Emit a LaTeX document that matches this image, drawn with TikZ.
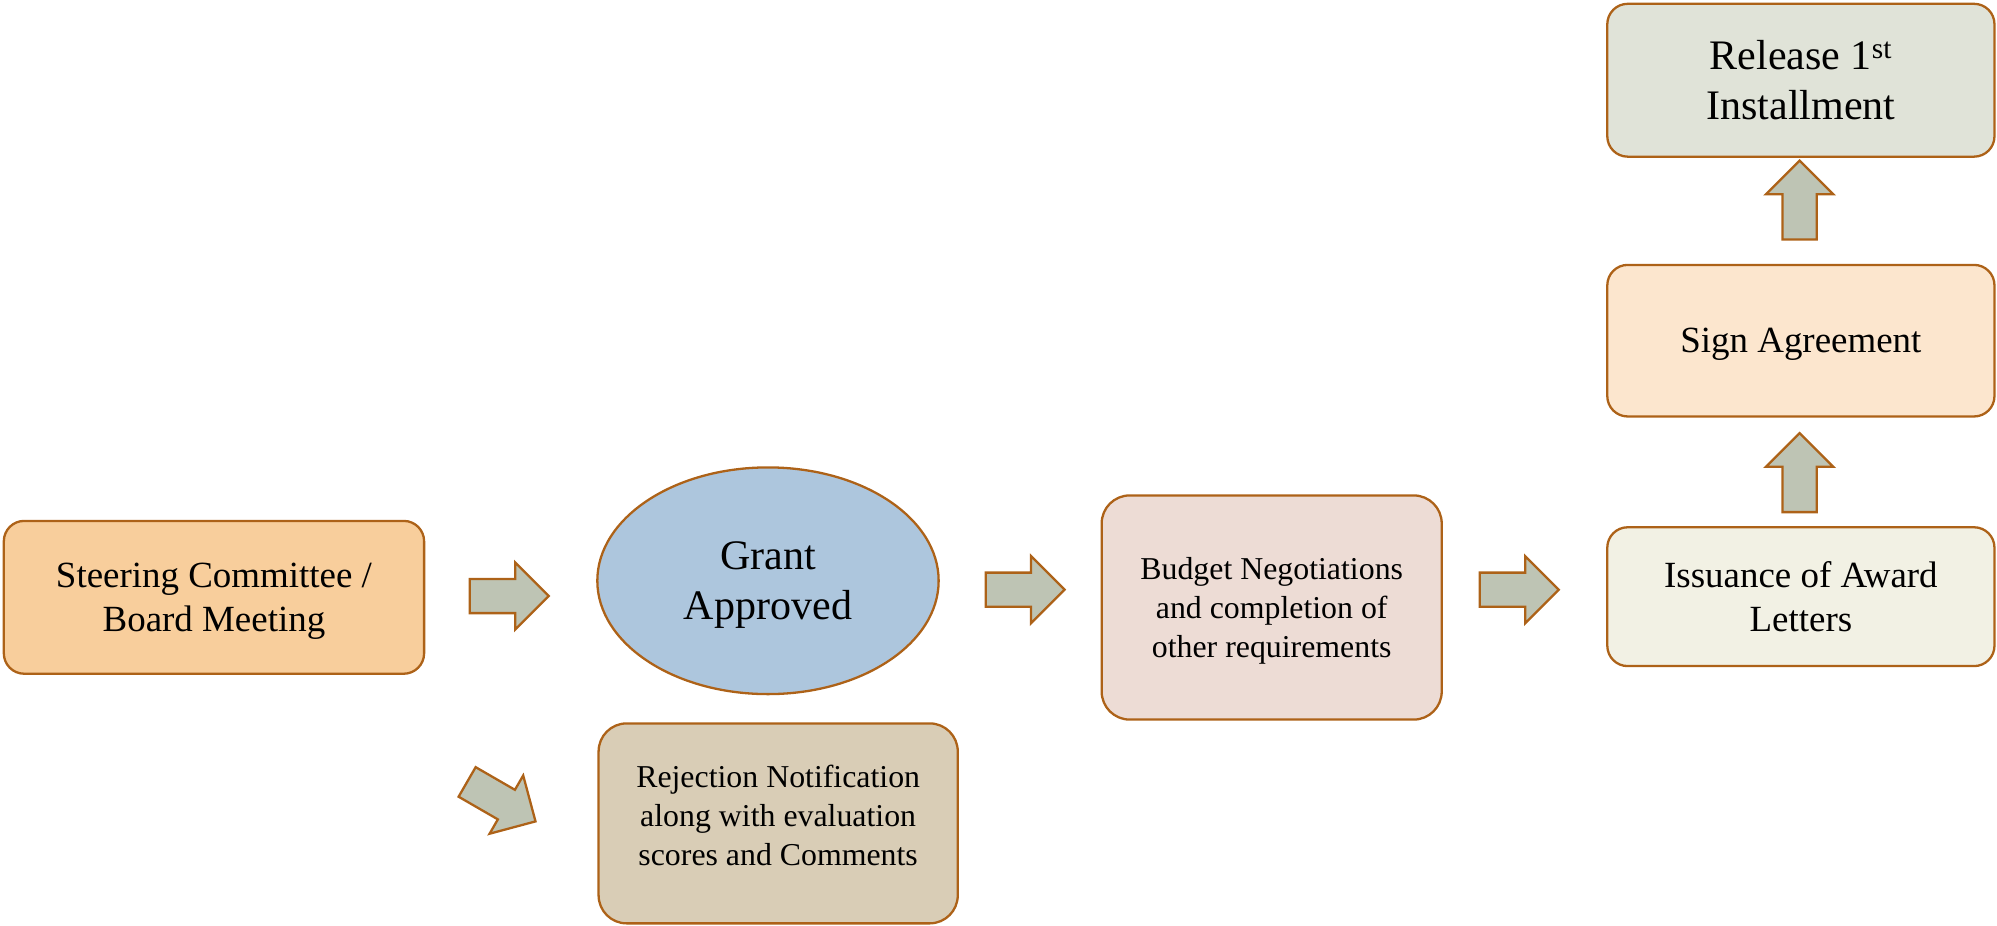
\documentclass[tikz,border=0pt]{standalone}
\usepackage{fontspec}
\setmainfont{Liberation Serif}
\usetikzlibrary{shapes.geometric,shapes.arrows}

\definecolor{edgebrown}{HTML}{AD6218}
\definecolor{arrowfill}{HTML}{BEC4B4}
\definecolor{steerfill}{HTML}{F8CE9C}
\definecolor{grantfill}{HTML}{ADC6DD}
\definecolor{budgetfill}{HTML}{EDDCD5}
\definecolor{issuefill}{HTML}{F2F1E4}
\definecolor{signfill}{HTML}{FCE6CE}
\definecolor{releasefill}{HTML}{E0E3D8}
\definecolor{rejectfill}{HTML}{D9CDB6}

\tikzset{
  stagebox/.style={draw=edgebrown, line width=1.8pt, rounded corners=16pt,
    align=center, inner sep=0pt},
  blockarrow/.style={single arrow, draw=edgebrown, fill=arrowfill,
    line width=1.8pt, minimum height=62pt, text height=12.5pt, text depth=12.5pt,
    single arrow head extend=13pt, inner sep=0pt, anchor=tail},
  bigtext/.style={font=\fontsize{33}{39}\selectfont},
  midtext/.style={font=\fontsize{29}{35}\selectfont},
  smalltext/.style={font=\fontsize{25}{30.5}\selectfont},
}

\begin{document}
\begin{tikzpicture}[x=1pt, y=-1pt]
  \useasboundingbox (0,0) rectangle (1568,727);

  % process stages
  \node[stagebox, midtext, fill=steerfill, minimum width=330pt, minimum height=120pt,
    text depth=-6.5pt]
    (steer) at (168,469) {Steering Committee /\\Board Meeting};
  \node[ellipse, draw=edgebrown, line width=1.8pt, fill=grantfill, bigtext,
    align=center, inner sep=0pt, minimum width=268pt, minimum height=178pt,
    text depth=-2.8pt]
    (grant) at (603,456) {Grant\\Approved};
  \node[stagebox, smalltext, fill=rejectfill, rounded corners=22pt,
    minimum width=282pt, minimum height=157pt, text depth=13pt]
    (reject) at (611,646.5) {Rejection Notification\\along with evaluation\\scores and Comments};
  \node[stagebox, smalltext, fill=budgetfill, rounded corners=22pt,
    minimum width=267pt, minimum height=176pt, text depth=-0.5pt]
    (budget) at (998.5,477) {Budget Negotiations\\and completion of\\other requirements};
  \node[stagebox, midtext, fill=issuefill, minimum width=304pt, minimum height=109pt,
    text depth=-6pt]
    (issue) at (1414,468.5) {Issuance of Award\\Letters};
  \node[stagebox, midtext, fill=signfill, minimum width=304pt, minimum height=119pt,
    text depth=-5.7pt]
    (sign) at (1414,267.5) {Sign Agreement};
  \node[stagebox, bigtext, fill=releasefill, minimum width=304pt, minimum height=120pt,
    text depth=-5pt]
    (release) at (1414,63) {Release 1\textsuperscript{st}\\Installment};

  % block arrows between the stages, placed by their tails
  \node[blockarrow] (toGrant) at (368,468) {};
  \node[blockarrow, rotate=-30] (toReject) at (366,613.5) {};
  \node[blockarrow] (toBudget) at (773,463) {};
  \node[blockarrow] (toIssue) at (1161,463) {};
  \node[blockarrow, rotate=90] (toSign) at (1413,403) {};
  \node[blockarrow, rotate=90] (toRelease) at (1413,189) {};
\end{tikzpicture}
\end{document}
